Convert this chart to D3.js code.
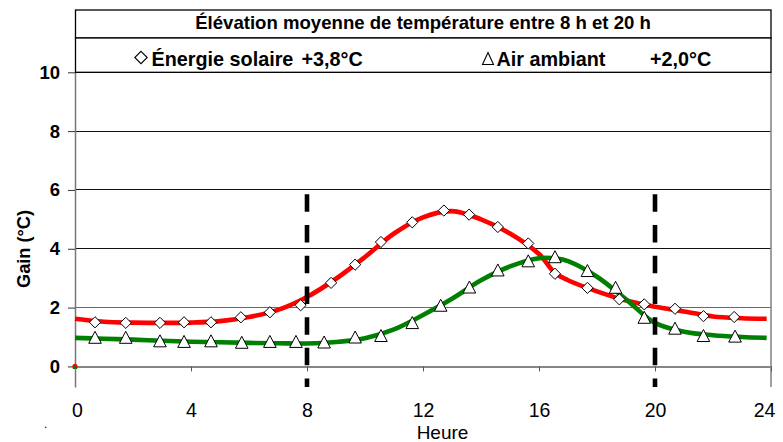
<!DOCTYPE html>
<html>
<head>
<meta charset="utf-8">
<script src="https://cdn.jsdelivr.net/npm/d3@7"></script>
<style>
  html, body { margin: 0; padding: 0; background: #fff; }
  svg { display: block; font-family: "Liberation Sans", Arial, sans-serif; }
</style>
</head>
<body>
<svg id="chart" width="783" height="442"></svg>
<script>
// Measured points (hour, gain °C)
const solarHours = [0.69, 1.75, 2.93, 3.76, 4.69, 5.72, 6.72, 7.78, 8.83, 9.66, 10.55, 11.63, 12.72, 13.59, 14.58, 15.63, 16.55, 17.67, 18.77, 19.63, 20.69, 21.67, 22.73];
const solarGain  = [1.50, 1.48, 1.48, 1.50, 1.50, 1.67, 1.84, 2.08, 2.84, 3.46, 4.23, 4.90, 5.30, 5.16, 4.74, 4.18, 3.15, 2.67, 2.28, 2.11, 1.96, 1.71, 1.68];
const airHours   = [0.69, 1.75, 2.93, 3.76, 4.69, 5.75, 6.72, 7.62, 8.59, 9.66, 10.55, 11.63, 12.61, 13.60, 14.58, 15.63, 16.55, 17.67, 18.64, 19.63, 20.69, 21.67, 22.76];
const airGain    = [0.99, 0.99, 0.87, 0.85, 0.87, 0.82, 0.85, 0.85, 0.83, 1.00, 1.05, 1.49, 2.08, 2.70, 3.28, 3.59, 3.73, 3.26, 2.69, 1.67, 1.30, 1.05, 1.03];

// Fitted trend curves
const solarFitHours = [0, 1, 2, 3, 4, 5, 6, 7, 8, 9, 10, 11, 12, 13, 14, 15, 16, 16.55, 17, 18, 19, 20, 21, 22, 23, 23.85];
const solarFitGain  = [1.62, 1.52, 1.49, 1.48, 1.49, 1.54, 1.68, 1.92, 2.36, 2.98, 3.72, 4.52, 5.07, 5.28, 5.00, 4.52, 3.82, 3.18, 2.93, 2.55, 2.24, 2.03, 1.87, 1.70, 1.64, 1.62];
const airFitHours   = [0, 1, 2, 3, 4, 5, 6, 7, 8, 9, 10, 11, 12, 13, 14, 15, 16, 16.6, 17, 18, 19, 20, 21, 22, 23, 23.85];
const airFitGain    = [0.97, 0.94, 0.91, 0.87, 0.84, 0.82, 0.80, 0.79, 0.78, 0.83, 0.96, 1.26, 1.75, 2.30, 2.93, 3.40, 3.68, 3.67, 3.58, 3.05, 2.28, 1.48, 1.18, 1.06, 1.00, 0.97];

// Axis ticks and period bounds
const xTicks = [0, 4, 8, 12, 16, 20, 24];
const yTicks = [0, 2, 4, 6, 8, 10];
const periodBounds = [8, 20];
const dashTop = 5.85;

const titleText = "Élévation moyenne de température entre 8 h et 20 h";
const legendSolar = "Énergie solaire";
const legendSolarValue = "+3,8°C";
const legendAir = "Air ambiant";
const legendAirValue = "+2,0°C";

const svg = d3.select("#chart");
const x = d3.scaleLinear().domain([0, 24]).range([75, 771]);
const y = d3.scaleLinear().domain([-0.7, 10]).range([387, 72.3]);

// Horizontal gridlines
svg.append("g")
  .selectAll("line")
  .data(yTicks.filter(v => v > 0))
  .join("line")
  .attr("x1", x(0)).attr("x2", x(24))
  .attr("y1", d => y(d)).attr("y2", d => y(d))
  .attr("stroke", d => d === 2 ? "#6a6a6a" : "#111")
  .attr("stroke-width", 1)
  .attr("shape-rendering", "crispEdges");

// Right frame edge
svg.append("line")
  .attr("x1", x(24)).attr("x2", x(24))
  .attr("y1", y(10)).attr("y2", y(-0.7))
  .attr("stroke", "#808080").attr("stroke-width", 1.5);

// Y axis
const yAxis = svg.append("g")
  .attr("transform", `translate(${x(0)},0)`)
  .call(d3.axisLeft(y).tickValues(yTicks).tickSizeInner(7).tickSizeOuter(0).tickPadding(8));
yAxis.select(".domain").attr("stroke", "#777").attr("stroke-width", 1.5);
yAxis.selectAll(".tick line").attr("stroke", "#333");
yAxis.selectAll(".tick text")
  .attr("font-family", "Liberation Sans, Arial, sans-serif")
  .attr("font-size", 18.5).attr("font-weight", "bold").attr("fill", "#000");

// X axis at zero
const xAxis = svg.append("g")
  .attr("transform", `translate(0,${y(0)})`)
  .call(d3.axisBottom(x).tickValues(xTicks).tickSizeInner(5).tickSizeOuter(0).tickPadding(31.5));
xAxis.select(".domain").attr("stroke", "#858585").attr("stroke-width", 2);
xAxis.selectAll(".tick line").attr("stroke", "#555").filter(d => d === 0).remove();
xAxis.selectAll(".tick text")
  .attr("font-family", "Liberation Sans, Arial, sans-serif")
  .attr("font-size", 19.5).attr("fill", "#000")
  .attr("dx", d => d === 24 ? -7 : (d === 0 ? 2 : 0));

// Axis titles
svg.append("text")
  .attr("x", 442.5).attr("y", 438.5)
  .attr("text-anchor", "middle")
  .attr("font-size", 19)
  .text("Heure");
svg.append("text")
  .attr("transform", "translate(29.5,249) rotate(-90)")
  .attr("text-anchor", "middle")
  .attr("font-size", 18.2).attr("font-weight", "bold")
  .text("Gain (°C)");
svg.append("text")
  .attr("x", 44).attr("y", 428)
  .attr("font-size", 12)
  .text(".");

// Trend curves
const line = d3.line().x(d => x(d[0])).y(d => y(d[1])).curve(d3.curveCatmullRom.alpha(0.5));
svg.append("path")
  .datum(d3.zip(solarFitHours, solarFitGain))
  .attr("d", line)
  .attr("fill", "none").attr("stroke", "#ff0000").attr("stroke-width", 4.6);
svg.append("path")
  .datum(d3.zip(airFitHours, airFitGain))
  .attr("d", line)
  .attr("fill", "none").attr("stroke", "#008000").attr("stroke-width", 4.6);

// Origin point
svg.append("circle").attr("cx", x(0)).attr("cy", y(0)).attr("r", 2.6).attr("fill", "#ff0000");
svg.append("path")
  .attr("d", `M${x(0)},${y(0) - 1.5}L${x(0) + 2.5},${y(0) + 2.5}L${x(0) - 2.5},${y(0) + 2.5}Z`)
  .attr("fill", "#008000");

// Markers
const diamondPath = (cx, cy, r) => `M${cx},${cy - r}L${cx + r},${cy}L${cx},${cy + r}L${cx - r},${cy}Z`;
const trianglePath = (cx, cy, w, h) => `M${cx},${cy - h / 2}L${cx + w / 2},${cy + h / 2}L${cx - w / 2},${cy + h / 2}Z`;

svg.append("g")
  .selectAll("path")
  .data(d3.zip(solarHours, solarGain))
  .join("path")
  .attr("d", d => diamondPath(x(d[0]), y(d[1]), 5.6))
  .attr("fill", "#fff").attr("stroke", "#000").attr("stroke-width", 1);

svg.append("g")
  .selectAll("path")
  .data(d3.zip(airHours, airGain))
  .join("path")
  .attr("d", d => trianglePath(x(d[0]), y(d[1]), 12.6, 12))
  .attr("fill", "#fff").attr("stroke", "#000").attr("stroke-width", 1);

// Period bounds (8 h and 20 h)
svg.append("g")
  .selectAll("line")
  .data(periodBounds)
  .join("line")
  .attr("x1", d => x(d)).attr("x2", d => x(d))
  .attr("y1", y(dashTop)).attr("y2", y(-0.7))
  .attr("stroke", "#000").attr("stroke-width", 4.6)
  .attr("stroke-dasharray", "17.5,13.2");

// Title and legend boxes
svg.append("rect")
  .attr("x", 75.5).attr("y", 10).attr("width", 695.5).attr("height", 28)
  .attr("fill", "#fff").attr("stroke", "#000").attr("stroke-width", 1.3);
svg.append("rect")
  .attr("x", 75.5).attr("y", 38).attr("width", 695.5).attr("height", y(10) - 38)
  .attr("fill", "#fff").attr("stroke", "#000").attr("stroke-width", 1.3);

svg.append("text")
  .attr("x", 423).attr("y", 29)
  .attr("text-anchor", "middle")
  .attr("font-size", 18.6).attr("font-weight", "bold")
  .text(titleText);

// Legend row
svg.append("path").attr("d", diamondPath(141, 57.5, 6.2))
  .attr("fill", "none").attr("stroke", "#000").attr("stroke-width", 1.1);
svg.append("text").attr("x", 151.5).attr("y", 65.5)
  .attr("font-size", 19.8).attr("font-weight", "bold").text(legendSolar);
svg.append("text").attr("x", 301.5).attr("y", 65.5)
  .attr("font-size", 19.8).attr("font-weight", "bold").text(legendSolarValue);

svg.append("path").attr("d", trianglePath(488, 58.5, 11, 12))
  .attr("fill", "none").attr("stroke", "#000").attr("stroke-width", 1.1);
svg.append("text").attr("x", 496.5).attr("y", 65.5)
  .attr("font-size", 19.8).attr("font-weight", "bold").text(legendAir);
svg.append("text").attr("x", 650).attr("y", 65.5)
  .attr("font-size", 19.8).attr("font-weight", "bold").text(legendAirValue);
</script>
</body>
</html>
